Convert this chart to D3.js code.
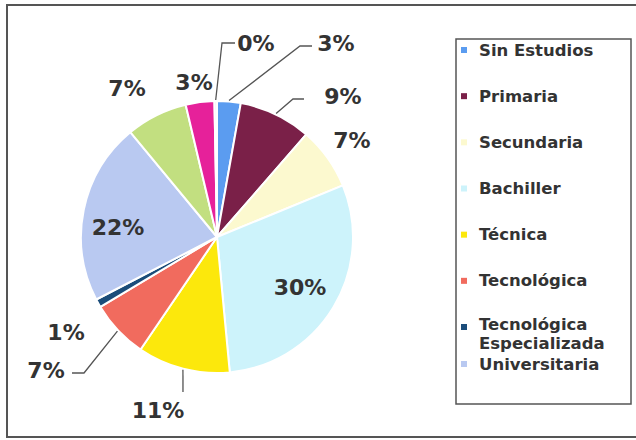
<!DOCTYPE html>
<html>
<head>
<meta charset="utf-8">
<script src="https://cdn.jsdelivr.net/npm/d3@7"></script>
<style>
  body { margin: 0; background: #fff; }
  svg { display: block; }
</style>
</head>
<body>
<svg id="chart" width="636" height="440"></svg>
<script>
// data (share of each level, %)
var categories = ["Sin Estudios", "Primaria", "Secundaria", "Bachiller", "Técnica",
                  "Tecnológica", "Tecnológica Especializada", "Universitaria"];
var values = [2.8, 8.6, 7.4, 29.7, 11.0, 6.9, 1.0, 21.6, 7.3, 3.4, 0.3];
var colors = ["#5b9cf0", "#7a2048", "#fcf9cf", "#cdf3fb", "#fce80c", "#f16b5e",
              "#1b4d7a", "#b9c9f1", "#c2df80", "#e6219a", "#f2f2f2"];

// label placement relative to pie centre; elbow = bend of leader line
var labelLayout = [
  {dx: 119, dy: -194, elbow: [83, -191], end: [95, -191]},
  {dx: 126, dy: -141, elbow: [76, -138], end: [87, -138]},
  {dx: 135, dy: -97},
  {dx: 83, dy: 50},
  {dx: -59, dy: 173, elbow: [-34, 155], end: [-34, 155]},
  {dx: -171, dy: 133, elbow: [-133, 136], end: [-145, 136]},
  {dx: -151, dy: 95},
  {dx: -99, dy: -10},
  {dx: -90, dy: -149},
  {dx: -23, dy: -155},
  {dx: 39, dy: -194, elbow: [5, -194], end: [18, -194]}
];

var svg = d3.select("#chart");
var cx = 217, cy = 237, radius = 136;

// outer frame
svg.append("rect")
  .attr("x", 7).attr("y", 5)
  .attr("width", 640).attr("height", 432)
  .attr("fill", "none").attr("stroke", "#555").attr("stroke-width", 2);

var pie = d3.pie().sort(null).value(function(d) { return d; });
var arc = d3.arc().innerRadius(0).outerRadius(radius);
var arcs = pie(values);
var total = d3.sum(values);

var g = svg.append("g").attr("transform", "translate(" + cx + "," + cy + ")");

g.selectAll("path.slice")
  .data(arcs)
  .enter().append("path")
  .attr("class", "slice")
  .attr("d", arc)
  .attr("fill", function(d, i) { return colors[i]; })
  .attr("stroke", "#fff")
  .attr("stroke-width", 2)
  .attr("stroke-linejoin", "round");

// leader lines
arcs.forEach(function(d, i) {
  var l = labelLayout[i];
  if (!l.elbow) return;
  var mid = (d.startAngle + d.endAngle) / 2;
  var sx = Math.sin(mid) * (radius + 1), sy = -Math.cos(mid) * (radius + 1);
  g.append("path")
    .attr("d", d3.line()([[sx, sy], l.elbow, l.end]))
    .attr("fill", "none")
    .attr("stroke", "#555")
    .attr("stroke-width", 1.3);
});

g.selectAll("text.pct")
  .data(arcs)
  .enter().append("text")
  .attr("class", "pct")
  .attr("x", function(d, i) { return labelLayout[i].dx; })
  .attr("y", function(d, i) { return labelLayout[i].dy; })
  .attr("text-anchor", "middle")
  .attr("dominant-baseline", "central")
  .style("font", "bold 22px 'DejaVu Sans'")
  .attr("fill", "#333")
  .text(function(d) { return Math.round(d.value / total * 100) + "%"; });

// legend
var legend = svg.append("g");
legend.append("rect")
  .attr("x", 456).attr("y", 39)
  .attr("width", 175).attr("height", 365)
  .attr("fill", "#fff").attr("stroke", "#555").attr("stroke-width", 1.5);

var ly = d3.scaleLinear().domain([0, 6]).range([50, 327]);

categories.forEach(function(name, i) {
  var y = i < 7 ? ly(i) : ly(6) + 37;
  legend.append("rect")
    .attr("x", 461).attr("y", y - 3)
    .attr("width", 6).attr("height", 6)
    .attr("fill", colors[i]);
  var words = i === 6 ? ["Tecnológica", "Especializada"] : [name];
  words.forEach(function(w, j) {
    legend.append("text")
      .attr("x", 479)
      .attr("y", y - (words.length > 1 ? 3 : 0) + j * 19)
      .attr("dominant-baseline", "central")
      .style("font", "bold 16.5px 'DejaVu Sans'")
      .attr("fill", "#333")
      .text(w);
  });
});
</script>
</body>
</html>
